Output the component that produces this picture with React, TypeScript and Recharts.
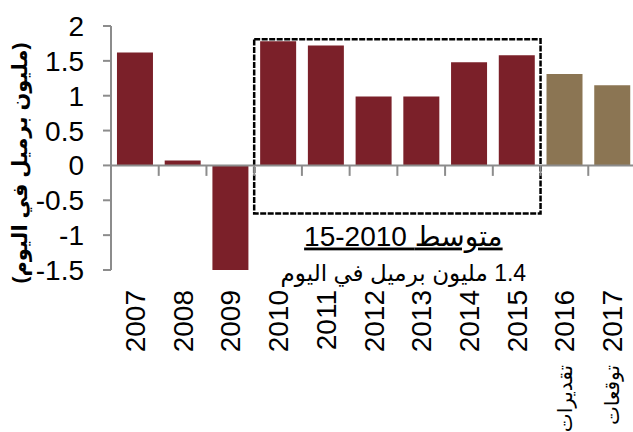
import React from "react";
import {
  BarChart,
  Bar,
  Cell,
  XAxis,
  YAxis,
  ReferenceLine,
  ReferenceArea,
} from "recharts";

const years = ["2007", "2008", "2009", "2010", "2011", "2012", "2013", "2014", "2015", "2016", "2017"];
const values = [1.62, 0.07, -1.5, 1.78, 1.72, 0.99, 0.99, 1.48, 1.58, 1.31, 1.15];
const notes = ["", "", "", "", "", "", "", "", "", "تقديرات", "توقعات"];
const estimated = [false, false, false, false, false, false, false, false, false, true, true];
const yTicks = [-1.5, -1, -0.5, 0, 0.5, 1, 1.5, 2];

const avgTitle = "15-2010 متوسط";
const avgValue = "1.4 مليون برميل في اليوم";
const yTitle = "(مليون برميل في اليوم)";

const data = years.map((y, i) => ({ year: y, value: values[i], note: notes[i] }));

const RED = "#7b2029";
const TAN = "#8b7553";
const GREY = "#8c8c8c";
const FONT = "'Liberation Sans', Arial, 'DejaVu Sans', sans-serif";

const XTick = (props: any) => {
  const { x, y, index } = props;
  const note = data[index]?.note;
  return (
    <g transform={`rotate(-90, ${x}, ${y})`} fontFamily={FONT} fill="#000">
      <text x={x} y={y} dy="0.36em" textAnchor="end" fontSize={28}>
        {props.payload.value}
      </text>
      {note ? (
        <text x={x - 75} y={y} dy="0.36em" textAnchor="end" fontSize={20}>
          {note}
        </text>
      ) : null}
    </g>
  );
};

const BoxLabel = (props: any) => {
  const { x, y, width, height } = props.viewBox;
  const cx = x + width / 2 + 6;
  const bottom = y + height;
  return (
    <g fontFamily={FONT} fill="#000">
      <text
        x={cx}
        y={bottom + 32}
        textAnchor="middle"
        fontSize={28}
        style={{ textDecoration: "underline" }}
      >
        {avgTitle}
      </text>
      <text x={cx} y={bottom + 67} textAnchor="middle" direction="rtl" fontSize={23}>
        {avgValue}
      </text>
    </g>
  );
};

const YTitle = (props: any) => {
  const { y, height } = props.viewBox;
  const cx = 20;
  const cy = y + height / 2 + 15;
  return (
    <text
      x={cx}
      y={cy}
      transform={`rotate(-90, ${cx}, ${cy})`}
      textAnchor="middle"
      direction="rtl"
      dy="0.35em"
      fontFamily={FONT}
      fontWeight="bold"
      fontSize={21}
      fill="#000"
    >
      {yTitle}
    </text>
  );
};

export default function App() {
  return (
    <div
      style={{
        position: "absolute",
        left: 0,
        top: 0,
        width: 633,
        height: 432,
        overflow: "hidden",
        background: "#fff",
      }}
    >
      <BarChart
        width={636}
        height={432}
        data={data}
        margin={{ top: 26, right: 0, left: 0, bottom: 0 }}
        barCategoryGap="12.5%"
      >
        <XAxis
          dataKey="year"
          axisLine={false}
          tickLine={false}
          tickSize={0}
          tickMargin={20}
          height={162}
          interval={0}
          tick={<XTick />}
        />
        <YAxis
          width={111}
          domain={[-1.5, 2]}
          ticks={yTicks}
          allowDataOverflow
          interval={0}
          tickSize={8}
          tickMargin={19}
          axisLine={{ stroke: GREY, strokeWidth: 2 }}
          tickLine={{ stroke: GREY, strokeWidth: 2 }}
          tick={{ fontFamily: FONT, fontSize: 28, fill: "#000" }}
          label={<YTitle />}
        />
        <Bar dataKey="value" isAnimationActive={false}>
          {data.map((d, i) => (
            <Cell key={d.year} fill={estimated[i] ? TAN : RED} />
          ))}
        </Bar>
        <ReferenceLine y={0} stroke={GREY} strokeWidth={2} />
        {years.map((yr) => (
          <ReferenceLine
            key={"t" + yr}
            segment={[
              { x: yr, y: 0 },
              { x: yr, y: -0.15 },
            ]}
            position="start"
            stroke={GREY}
            strokeWidth={2}
          />
        ))}
        <ReferenceArea
          x1="2010"
          x2="2015"
          y1={-0.69}
          y2={1.81}
          fill="none"
          fillOpacity={0}
          stroke="#000"
          strokeWidth={2.5}
          strokeDasharray="6 1.5"
          ifOverflow="visible"
          label={<BoxLabel />}
        />
      </BarChart>
    </div>
  );
}
